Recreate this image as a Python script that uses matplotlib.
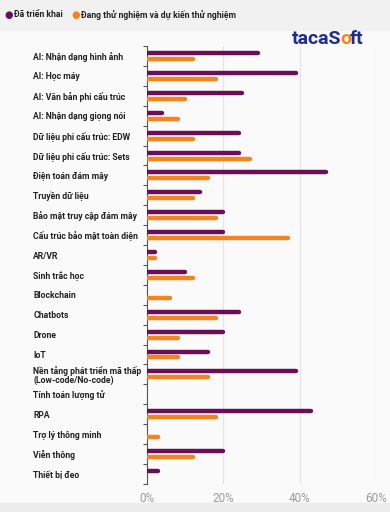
import numpy as np
import matplotlib.pyplot as plt
from matplotlib.patches import Rectangle

# Data (percent of respondents)
categories = [
    "AI: Nhận dạng hình ảnh",
    "AI: Học máy",
    "AI: Văn bản phi cấu trúc",
    "AI: Nhận dạng giọng nói",
    "Dữ liệu phi cấu trúc: EDW",
    "Dữ liệu phi cấu trúc: Sets",
    "Điện toán đám mây",
    "Truyền dữ liệu",
    "Bảo mật truy cập đám mây",
    "Cấu trúc bảo mật toàn diện",
    "AR/VR",
    "Sinh trắc học",
    "Blockchain",
    "Chatbots",
    "Drone",
    "IoT",
    "Nền tảng phát triển mã thấp\n(Low-code/No-code)",
    "Tính toán lượng tử",
    "RPA",
    "Trợ lý thông minh",
    "Viễn thông",
    "Thiết bị đeo",
]
deployed = [29, 39, 25, 4, 24, 24, 47, 14, 20, 20, 2, 10, 0, 24, 20, 16, 39, 0, 43, 0, 20, 3]
testing = [12, 18, 10, 8, 12, 27, 16, 12, 18, 37, 2, 12, 6, 18, 8, 8, 16, 0, 18, 3, 12, 0]
xticks = [0, 20, 40, 60]

purple = "#6a0f55"
orange = "#f5841f"

plt.rcParams["font.family"] = ["Roboto", "DejaVu Sans"]

fig = plt.figure(figsize=(3.9, 5.12), dpi=100, facecolor="#fbfafb")
fig.patches.append(Rectangle((0, 0.942), 1, 0.058, transform=fig.transFigure,
                             color="#f1f1f1", zorder=0))
fig.patches.append(Rectangle((0, 0), 1, 0.018, transform=fig.transFigure,
                             color="#ececec", zorder=0))

ax = fig.add_axes([0.377, 0.055, 0.587, 0.855])
ax.set_facecolor("#fbfafb")

y = np.arange(len(categories))
for i in y:
    if deployed[i] > 0:
        ax.plot([0, deployed[i]], [i - 0.15, i - 0.15], color=purple, lw=3.2,
                solid_capstyle="round", zorder=3)
    if testing[i] > 0:
        ax.plot([0, testing[i]], [i + 0.15, i + 0.15], color=orange, lw=3.2,
                solid_capstyle="round", zorder=3)

ax.set_xlim(0, 60)
ax.set_ylim(len(categories) - 0.5, -0.5)
ax.set_xticks(xticks)
ax.set_xticklabels([f"{v}%" for v in xticks], color="#9c9c9c", fontsize=8.5)
ax.tick_params(axis="x", length=0, pad=6)
for v in xticks[1:]:
    ax.axvline(v, color="#e4e4e4", lw=0.8, zorder=1)

ax.set_yticks(y)
ax.set_yticklabels(categories, fontsize=6.2, fontweight="bold", color="#222222",
                   ha="left", linespacing=1.05)
ax.tick_params(axis="y", length=0, pad=82)
ax.set_yticks(np.arange(len(categories) + 1) - 0.5, minor=True)
ax.tick_params(axis="y", which="minor", length=3, color="#555555", width=0.8)

for s in ["top", "right", "bottom"]:
    ax.spines[s].set_visible(False)
ax.spines["left"].set_color("#555555")
ax.spines["left"].set_linewidth(0.8)

# legend
fig.text(0.012, 0.971, "●", color=purple, fontsize=7, va="center")
fig.text(0.036, 0.971, "Đã triển khai", fontsize=6.2, fontweight="bold",
         color="#222222", va="center")
fig.text(0.184, 0.971, "●", color=orange, fontsize=7, va="center")
fig.text(0.208, 0.971, "Đang thử nghiệm và dự kiến thử nghiệm", fontsize=6.2,
         fontweight="bold", color="#222222", va="center")

# logo drawn piece by piece
r = fig.canvas.get_renderer()
x = 0.748
for part, col in [("tacaS", "#1e2d8f"), ("o", orange), ("ft", "#1e2d8f")]:
    t = fig.text(x, 0.924, part, fontsize=14, fontweight="bold", color=col,
                 va="center")
    x = t.get_window_extent(r).x1 / fig.bbox.width - 0.003

fig.savefig("out.png", dpi=100, facecolor=fig.get_facecolor())
